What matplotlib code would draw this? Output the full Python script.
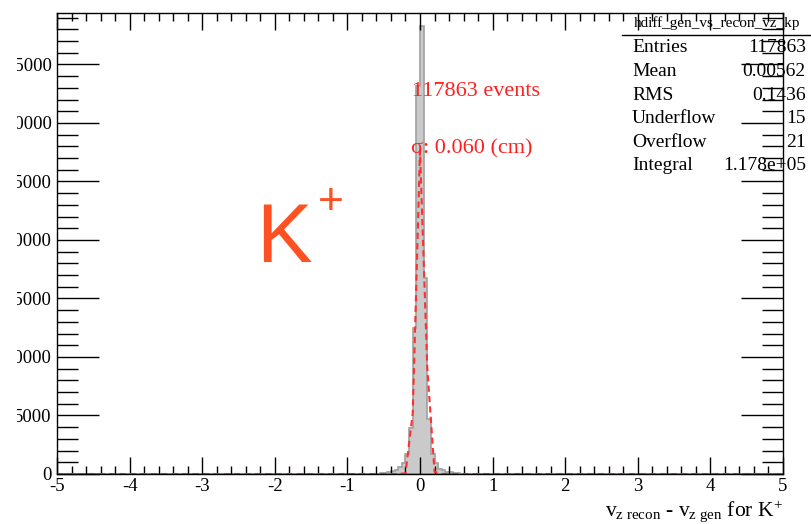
import numpy as np
import matplotlib
matplotlib.use("Agg")
from matplotlib import pyplot as plt
from matplotlib.patches import Rectangle
from matplotlib.ticker import MultipleLocator


plt.rcParams['font.family'] = ['Liberation Serif', 'DejaVu Serif']
plt.rcParams['mathtext.fontset'] = 'custom'
plt.rcParams['mathtext.rm'] = 'Liberation Serif'
plt.rcParams['mathtext.it'] = 'Liberation Serif:italic'
plt.rcParams['axes.unicode_minus'] = False

# vz(recon) - vz(gen) for K+, 200 bins of 0.05 cm on [-5, 5]; only filled bins listed
bin_lo = [-0.60, -0.55, -0.50, -0.45, -0.40, -0.35, -0.30, -0.25, -0.20, -0.15,
          -0.10, -0.05, 0.00, 0.05, 0.10, 0.15, 0.20, 0.25, 0.30, 0.35,
          0.40, 0.45, 0.50, 0.55, 0.60]
counts = [40, 80, 120, 170, 250, 340, 600, 900, 1750, 3890,
          12440, 33200, 38300, 16710, 4740, 1750, 900, 450, 300, 200,
          150, 100, 70, 40, 20]

# gaussian fit result, drawn the way ROOT draws a TF1 (100 points over the range)
fit_amp = 28000.0
fit_mean = 0.01
fit_sigma = 0.060
n_events = 117863

stat_names = ["Entries", "Mean", "RMS", "Underflow", "Overflow", "Integral"]
stat_values = ["117863", "0.00562", "0.1436", "15", "21", "1.178e+05"]

W, H = 812, 524
fig = plt.figure(figsize=(W / 100, H / 100), dpi=100)
ax = fig.add_axes([57 / W, (H - 474) / H, (783 - 57) / W, (474 - 13) / H])

edges = np.linspace(-5, 5, 201)
centers = np.array(bin_lo) + 0.025
ax.hist(centers, bins=edges, weights=counts, histtype='stepfilled',
        facecolor='#cacaca', edgecolor='#a0a0a0', linewidth=1.2)

fx = np.linspace(-5, 5, 101)
fy = fit_amp * np.exp(-0.5 * ((fx - fit_mean) / fit_sigma) ** 2)
ax.plot(fx, fy, color='#ff3030', linestyle=(0, (3, 2)), linewidth=1.5)

ax.set_xlim(-5, 5)
ax.set_ylim(0, 39400)
ax.xaxis.set_major_locator(MultipleLocator(1))
ax.xaxis.set_minor_locator(MultipleLocator(0.2))
ax.yaxis.set_major_locator(MultipleLocator(5000))
ax.yaxis.set_minor_locator(MultipleLocator(1000))
ax.tick_params(which='both', direction='in', top=True, right=True,
               labelsize=13.5, colors='black', width=1.0)
ax.tick_params(axis='x', which='major', length=12, pad=3)
ax.tick_params(axis='x', which='minor', length=6)
ax.tick_params(axis='y', which='major', length=30, pad=4)
ax.tick_params(axis='y', which='minor', length=15)
for sp in ax.spines.values():
    sp.set_linewidth(1.0)

ax.text(-0.11, 32700, f"{n_events} events", color='#ff2020', fontsize=16,
        va='center', ha='left')
ax.text(-0.12, 27800, f"σ: {fit_sigma:.3f} (cm)", color='#ff2020', fontsize=16,
        va='center', ha='left')

# big particle label
fig.text(256 / W, 1 - 262 / H, "K", color='#ff5022', fontsize=60,
         family='Liberation Sans', ha='left', va='baseline')
fig.text(318 / W, 1 - 214 / H, "+", color='#ff5022', fontsize=32,
         family='Liberation Sans', ha='left', va='baseline')

fig.text(783 / W, 1 - 511 / H,
         r"v$_{\mathrm{z\ recon}}$ - v$_{\mathrm{z\ gen}}$ for K$^{+}$",
         fontsize=15.5, ha='right', va='center')

# stats box
fig.text(717 / W, 1 - 23 / H, "hdiff_gen_vs_recon_vz_kp", fontsize=11,
         ha='center', va='center')
fig.add_artist(plt.Line2D([622 / W, 1.0], [1 - 35 / H, 1 - 35 / H],
                          color='black', linewidth=1.0))
for i, (name, val) in enumerate(zip(stat_names, stat_values)):
    y = 1 - (48 + i * 23.6) / H
    fig.text(632 / W, y, name, fontsize=14, ha='left', va='center')
    fig.text(806 / W, y, val, fontsize=14, ha='right', va='center')

# canvas edge cuts into the left of the y labels
fig.add_artist(Rectangle((0, 0), 17 / W, 1, transform=fig.transFigure,
                         facecolor='white', edgecolor='none', zorder=10))

fig.savefig("out.png", dpi=100)
